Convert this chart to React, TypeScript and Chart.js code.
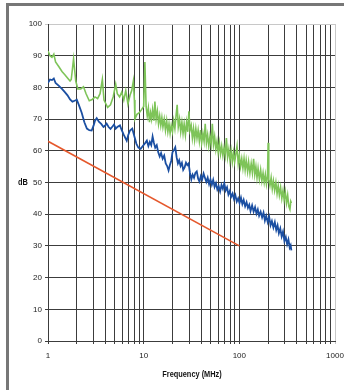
import React, { useEffect, useRef } from "react";
import { Chart, registerables } from "chart.js";

Chart.register(...registerables);

// ---- data ----
const greenFreq = [
  1.0, 1.05, 1.1, 1.15, 1.2, 1.3, 1.4, 1.5, 1.6, 1.7, 1.75, 1.85, 1.95, 2.05, 2.2, 2.35, 2.5, 2.7, 2.9, 3.1,
  3.3, 3.5, 3.7, 3.85, 4.0, 4.2, 4.5, 4.8, 5.1, 5.3, 5.6, 5.9, 6.2, 6.5, 6.85, 7.2, 7.5, 7.8, 8.0, 8.1,
  8.5, 9.0, 9.5,
  10, 10.3, 10.6, 10.9, 11.2, 11.5, 11.8, 12.1, 12.4, 12.8, 13.1, 13.5, 13.9, 14.3, 14.7, 15.1, 15.5, 15.9, 16.4, 16.9,
  17.4, 17.9, 18.4, 18.9, 19.4, 20, 20.6, 21.2, 21.8, 22.4, 23, 23.7, 24.4, 25.1, 25.8, 26.5, 27.3, 28.1, 28.9, 29.7,
  30.5, 31.4, 32.3, 33.2, 34.1, 35.1, 36.1, 37.1, 38.2, 39.3, 40.4, 41.6, 42.8, 44, 45.3, 46.6, 47.9, 49.3, 50.7, 52.2,
  53.7, 55.2, 56.8, 58.4, 60.1, 61.8, 63.6, 65.4, 67.3, 69.2, 71.2, 73.3, 75.4, 77.6, 79.8, 82.1, 84.5, 86.9, 89.4, 92,
  94.6, 97.3, 100, 103, 106, 109, 112, 115, 118, 122, 125, 129, 133, 137, 141, 145, 149, 153, 157, 162,
  167, 172, 177, 182, 187, 192, 197, 200, 203, 209, 215, 221, 227, 234, 241, 248, 255, 262, 270, 278,
  286, 294, 302, 311, 320, 329, 338, 345, 350,
];
const greenDb = [
  91.5, 90, 89.5, 90.5, 88, 86.5, 85, 84, 83, 82, 82.5, 89, 82, 79.5, 79.5, 80.2, 78, 75.8, 76.2, 77,
  76.5, 78, 82.5, 76, 75, 73.7, 74.5, 77, 81, 78, 77, 78.5, 76, 79, 74.8, 77.5, 79, 82, 76, 70,
  71.5, 72, 73,
  74, 88, 74, 71, 73.5, 69, 72, 70, 73, 69.5, 75.5, 70, 72.5, 68.5, 71, 68, 70.5, 67.5, 70, 66.5,
  69.5, 66, 68.5, 65.5, 68, 66, 69.5, 67, 71, 74.5, 67.5, 70, 66, 69, 65.5, 68.5, 65, 69, 66, 72.5,
  66.5, 68, 64, 67, 63.5, 67, 64, 66.5, 63, 66.5, 62.5, 65.5, 63, 68.5, 62.5, 65, 61.5, 64.5, 62, 68.5,
  62, 64.5, 60.5, 63, 59.5, 62.5, 59, 61.5, 58.5, 61, 58.5, 64, 58, 60.5, 57, 60, 56.5, 59.5, 56.5, 59,
  61.5, 56, 58.5, 55, 57.5, 54.5, 57.5, 54, 57, 53.5, 56.5, 53, 56, 53, 57.5, 52.5, 55, 51.5, 54.5, 51,
  54, 50.5, 53, 50, 52.5, 49.5, 52, 62.5, 51, 49, 51.5, 48, 50.5, 47.5, 50, 46.5, 49, 46, 48.5, 45,
  47.5, 44.5, 47, 43.5, 46, 42.5, 41.5, 44, 43.5,
];

const blueFreq = [
  1.0, 1.05, 1.1, 1.15, 1.2, 1.3, 1.4, 1.5, 1.6, 1.7, 1.8, 1.9, 2.0, 2.1, 2.25, 2.4, 2.55, 2.7, 2.86, 3.0,
  3.1, 3.23, 3.4, 3.6, 3.8, 3.94, 4.1, 4.3, 4.5, 4.7, 4.9, 5.1, 5.3, 5.65, 5.9, 6.2, 6.65, 6.9, 7.2, 7.6,
  8.0, 8.4, 8.8, 9.3, 9.8,
  10.4, 10.8, 11.2, 11.6, 12, 12.4, 12.8, 13.2, 13.7, 14.2, 14.7, 15.2, 15.8, 16.4, 17, 17.6, 18.2, 18.8, 19.4, 20,
  20.7, 21.4, 22.1, 22.8, 23.5, 24.3, 25.1, 25.9, 26.8, 27.7, 28.6, 29.5, 30.5, 31.5, 32.5, 33.6, 34.7, 35.9, 37.1, 38.3,
  39.6, 40.9, 42.3, 43.7, 45.2, 46.7, 48.3, 49.9, 51.6, 53.3, 55.1, 57, 58.9, 60.9, 63, 65.1, 67.3, 69.6, 72, 74.4,
  76.9, 79.5, 82.2, 85, 87.9, 90.9, 94, 97.2, 100.5, 104, 107.5, 111, 115, 119, 123, 127, 131, 136, 141, 146,
  151, 156, 161, 167, 173, 179, 185, 191, 198, 205, 212, 219, 227, 235, 243, 251, 259, 268, 277, 286,
  296, 306, 316, 326, 336, 344, 350,
];
const blueDb = [
  81.5, 82.5, 82.3, 82.8, 81.4, 80.5, 79.5, 78.5, 77.5, 76.2, 75.5, 75.8, 76.1, 74.5, 72, 69, 67, 66.5, 66.4, 68,
  69.5, 70.3, 69.2, 68.5, 67.5, 67.9, 68.6, 67.5, 66.9, 67.6, 68.3, 67, 67.5, 68, 66.5, 65, 63.2, 65, 66.4, 67,
  64.5, 62.2, 61, 60.6, 61.5,
  62.5, 63.2, 61.5, 62.8, 61.8, 64.5, 62.5, 61, 61.8, 59.5, 58.2, 59.3, 57.5, 58.5, 56, 55.2, 53.8, 55.5, 56.8, 59.5,
  60.2, 61.1, 58, 56, 57, 55.2, 56.2, 54, 54.8, 56.3, 55.5, 56, 53, 51, 52.5, 51.5, 53, 53.5, 51.2, 50.3,
  52, 51, 52.8, 51.5, 50.2, 51.5, 49.5, 51, 49.3, 50.8, 48.6, 49.8, 47.8, 48.8, 47.2, 49.2, 48, 49.8, 47.5, 48.5,
  46.2, 47.3, 45.5, 46.5, 44.8, 46, 44, 45, 43.5, 45.2, 43.2, 44.5, 42.5, 43.8, 42, 43, 41, 42.8, 40.8, 42.2,
  40.2, 41.5, 39.5, 40.8, 39, 40.5, 38, 39.5, 37.5, 39.2, 36.5, 37.8, 35.8, 37.5, 35, 36.5, 34, 35.5, 33, 34.5,
  31.5, 32.8, 30.5, 32, 29.5, 30.2, 28.6,
];

const redFreq = [1, 100];
const redDb = [63, 30];

const xGridValues = [
  1, 2, 3, 4, 5, 6, 7, 8, 9, 10, 20, 30, 40, 50, 60, 70, 80, 90, 100,
  200, 300, 400, 500, 600, 700, 800, 900, 1000,
];
const xLabelValues = [1, 10, 100, 1000];
const xLabelTexts = ["1", "10", "100", "1000"];
const yMin = 0;
const yMax = 100;
const yStep = 10;

const xTitle = "Frequency (MHz)";
const yTitle = "dB";

const FONT = "'Liberation Sans', Arial, sans-serif";

export default function App() {
  const canvasRef = useRef<HTMLCanvasElement | null>(null);

  useEffect(() => {
    const canvas = canvasRef.current;
    if (!canvas) return;
    const toXY = (xs: number[], ys: number[]) => xs.map((x, i) => ({ x, y: ys[i] }));
    const chart = new Chart(canvas, {
      type: "line",
      data: {
        datasets: [
          {
            label: "red",
            data: toXY(redFreq, redDb),
            borderColor: "#e5582c",
            borderWidth: 1.6,
            pointRadius: 0,
            tension: 0,
          },
          {
            label: "green",
            data: toXY(greenFreq, greenDb),
            borderColor: "#7ec459",
            borderWidth: 1.6,
            pointRadius: 0,
            tension: 0,
          },
          {
            label: "blue",
            data: toXY(blueFreq, blueDb),
            borderColor: "#1b4fa2",
            borderWidth: 1.8,
            pointRadius: 0,
            tension: 0,
          },
        ],
      },
      options: {
        animation: false,
        responsive: false,
        maintainAspectRatio: false,
        devicePixelRatio: 1,
        layout: { padding: { left: 0, right: 9, top: 24, bottom: 0 } },
        plugins: {
          legend: { display: false },
          tooltip: { enabled: false },
          title: { display: false },
        },
        scales: {
          x: {
            type: "logarithmic",
            min: 1,
            max: 1000,
            afterBuildTicks: (scale: any) => {
              scale.ticks = xGridValues.map((v) => ({ value: v }));
            },
            afterFit: (scale: any) => {
              scale.height = 49;
              scale.paddingRight = 0;
              scale.paddingLeft = 0;
            },
            ticks: {
              autoSkip: false,
              maxRotation: 0,
              minRotation: 0,
              padding: 7,
              color: "#222",
              font: { family: FONT, size: 8 },
              callback: (value: any) => {
                const i = xLabelValues.indexOf(Number(value));
                return i >= 0 ? xLabelTexts[i] : "";
              },
            },
            grid: {
              color: (ctx: any) => (ctx.tick && ctx.tick.value === 1000 ? "#c8c8c8" : "#3c3c3c"),
              lineWidth: 1,
              tickLength: 3,
            },
            border: { color: "#3c3c3c", width: 1 },
            title: { display: false },
          },
          y: {
            type: "linear",
            min: yMin,
            max: yMax,
            afterFit: (scale: any) => {
              scale.width = 48;
            },
            ticks: {
              stepSize: yStep,
              padding: 3,
              color: "#222",
              font: { family: FONT, size: 8 },
            },
            grid: {
              color: (ctx: any) => (ctx.tick && ctx.tick.value === 100 ? "#c8c8c8" : "#3c3c3c"),
              lineWidth: 1,
              tickLength: 3,
            },
            border: { color: "#3c3c3c", width: 1 },
          },
        },
      } as any,
    });
    return () => chart.destroy();
  }, []);

  const labelStyle: React.CSSProperties = {
    position: "absolute",
    fontFamily: FONT,
    fontWeight: "bold",
    fontSize: 9,
    color: "#111",
    lineHeight: "11px",
    whiteSpace: "nowrap",
  };

  return (
    <div>
      <div
        style={{
          position: "absolute",
          left: 6,
          top: 3,
          width: 338,
          height: 387,
          boxSizing: "border-box",
          borderLeft: "3px solid #777",
          borderTop: "3px solid #777",
        }}
      />
      <canvas
        ref={canvasRef}
        width={344}
        height={390}
        style={{ position: "absolute", left: 0, top: 0, width: 344, height: 390 }}
      />
      <span
        style={{
          ...labelStyle,
          left: 22.5,
          top: 182,
          transform: "translate(-50%, -50%) scaleX(0.82)",
        }}
      >
        {yTitle}
      </span>
      <span
        style={{
          ...labelStyle,
          left: 191.5,
          top: 374,
          transform: "translate(-50%, -50%) scaleX(0.82)",
        }}
      >
        {xTitle}
      </span>
    </div>
  );
}
